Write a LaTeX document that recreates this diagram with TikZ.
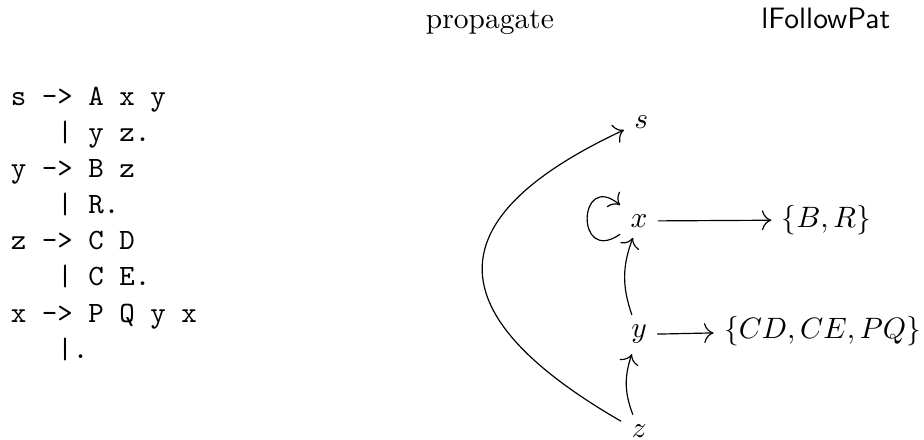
\documentclass[tikz,border=0pt]{standalone}
\usepackage{amsmath,amssymb}
\usepackage{tikz}
\usetikzlibrary{arrows.meta}

\begin{document}
\begin{tikzpicture}[>={To[scale=1.3]}, every node/.style={font=\normalsize},
	gram/.style={font=\ttfamily\fontsize{10}{12.25}\selectfont, align=left,
		inner sep=0pt, anchor=base west},
	head/.style={anchor=base}]
	\useasboundingbox (0,0) rectangle (11.008,5.242);
	% column heads
	\node[head] (hprop) at (5.837,4.905) {propagate};
	\node[head, font=\sffamily] (hfollow) at (9.838,4.905) {lFollowPat};
	% the grammar (base = last line)
	\node[gram] (gram) at (0.123,0.975)
	{s -> A x y\\
		\ \ \ | y z.\\
		y -> B z\\
		\ \ \ | R.\\
		z -> C D\\
		\ \ \ | C E.\\
		x -> P Q y x\\
		\ \ \ |.};
	% the graph
	\node (s) at (7.640,3.790) {$s$};
	\node (x) at (7.613,2.609) {$x$};
	\node (y) at (7.613,1.257) {$y$};
	\node (z) at (7.613,0.100) {$z$};
	\node (br) at (9.845,2.622) {$\{B,R\}$};
	\node (cd) at (9.800,1.303) {$\{CD,CE,PQ\}$};
	\draw[->] (z) to[out=150, in=205, looseness=1.85] (s);
	\draw[->] (z) to[bend left=20] (y);
	\draw[->] (y) to[bend left=20] (x);
	\draw[->] (x) to[out=215, in=140, looseness=1, min distance=6.6mm] (x);
	\draw[->] (x) -- (br);
	\draw[->] (y) -- (cd);
\end{tikzpicture}
\end{document}
